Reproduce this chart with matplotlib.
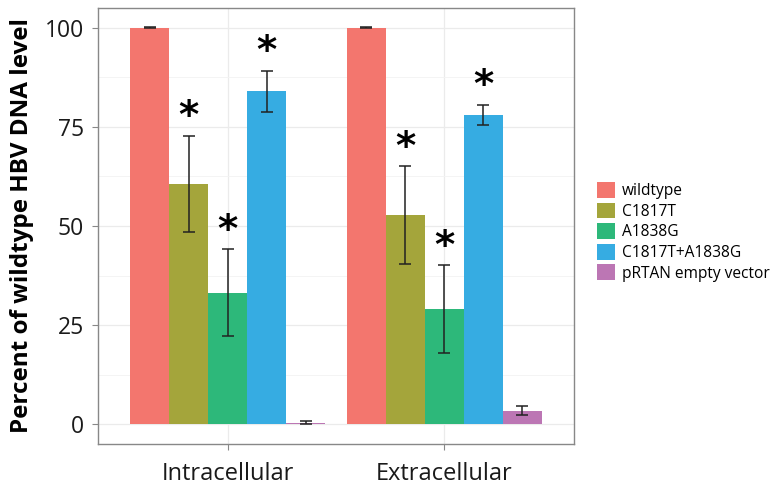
import matplotlib
matplotlib.use('Agg')
import matplotlib.pyplot as plt
from matplotlib.patches import Patch
import numpy as np

plt.rcParams['font.family'] = ['Open Sans', 'DejaVu Sans']

# data
locations = ['Intracellular', 'Extracellular']
constructs = ['wildtype', 'C1817T', 'A1838G', 'C1817T+A1838G', 'pRTAN empty vector']
colors = ['#F3766E', '#A4A53B', '#2DB87A', '#36ACE2', '#BC76B4']

intra_mean = [100, 60.7, 33.2, 84.0, 0.4]
intra_err = [0.1, 12.1, 11.0, 5.2, 0.3]
extra_mean = [100, 52.8, 29.0, 78.1, 3.4]
extra_err = [0.1, 12.4, 11.1, 2.5, 1.1]
# significance marks (True = asterisk)
intra_sig = [False, True, True, True, False]
extra_sig = [False, True, True, True, False]

fig = plt.figure(figsize=(7.82, 4.88), dpi=100)
ax = fig.add_axes([0.1253, 0.0902, 0.6087, 0.8934])

means = [intra_mean, extra_mean]
errs = [intra_err, extra_err]
sigs = [intra_sig, extra_sig]
width = 0.18
for g in range(len(locations)):
    for j in range(len(constructs)):
        xpos = g + 1 + (j - 2) * width
        ax.bar(xpos, means[g][j], width=width, color=colors[j], zorder=2)
        ax.errorbar(xpos, means[g][j], yerr=errs[g][j], fmt='none', ecolor='#222222',
                    elinewidth=1.1, capsize=4, capthick=1.1, zorder=3)
        if sigs[g][j]:
            ax.text(xpos, means[g][j] + errs[g][j] + 4.6, '*', fontsize=28,
                    ha='center', va='center', color='black', zorder=4,
                    family='DejaVu Sans', fontweight='bold')

ax.set_xlim(0.4, 2.6)
ax.set_ylim(-5, 105)
ax.set_xticks([1, 2])
ax.set_xticklabels(locations, fontsize=17, color='#1a1a1a')
ax.set_yticks([0, 25, 50, 75, 100])
ax.set_yticklabels(['0', '25', '50', '75', '100'], fontsize=16.5, color='#1a1a1a')
ax.set_yticks([12.5, 37.5, 62.5, 87.5], minor=True)
ax.tick_params(axis='both', which='major', length=4, color='#888888', width=0.8)
ax.tick_params(axis='x', pad=9)
ax.tick_params(axis='y', pad=6)
ax.tick_params(which='minor', length=0)
ax.grid(True, which='major', color='#ebebeb', lw=0.9, zorder=0)
ax.grid(True, which='minor', axis='y', color='#f3f3f3', lw=0.6, zorder=0)
ax.set_axisbelow(True)
for s in ax.spines.values():
    s.set_color('#888888')
    s.set_linewidth(1.0)

ax.set_ylabel('Percent of wildtype HBV DNA level', fontsize=17.5, fontweight='bold', labelpad=8)

handles = [Patch(facecolor=c, edgecolor='none') for c in colors]
fig.legend(handles, constructs, loc='center left', bbox_to_anchor=(0.755, 0.525),
           frameon=False, fontsize=11.2, handlelength=1.15, handleheight=1.2,
           handletextpad=0.5, labelspacing=0.22, borderaxespad=0)

fig.savefig('out.png', dpi=100)
